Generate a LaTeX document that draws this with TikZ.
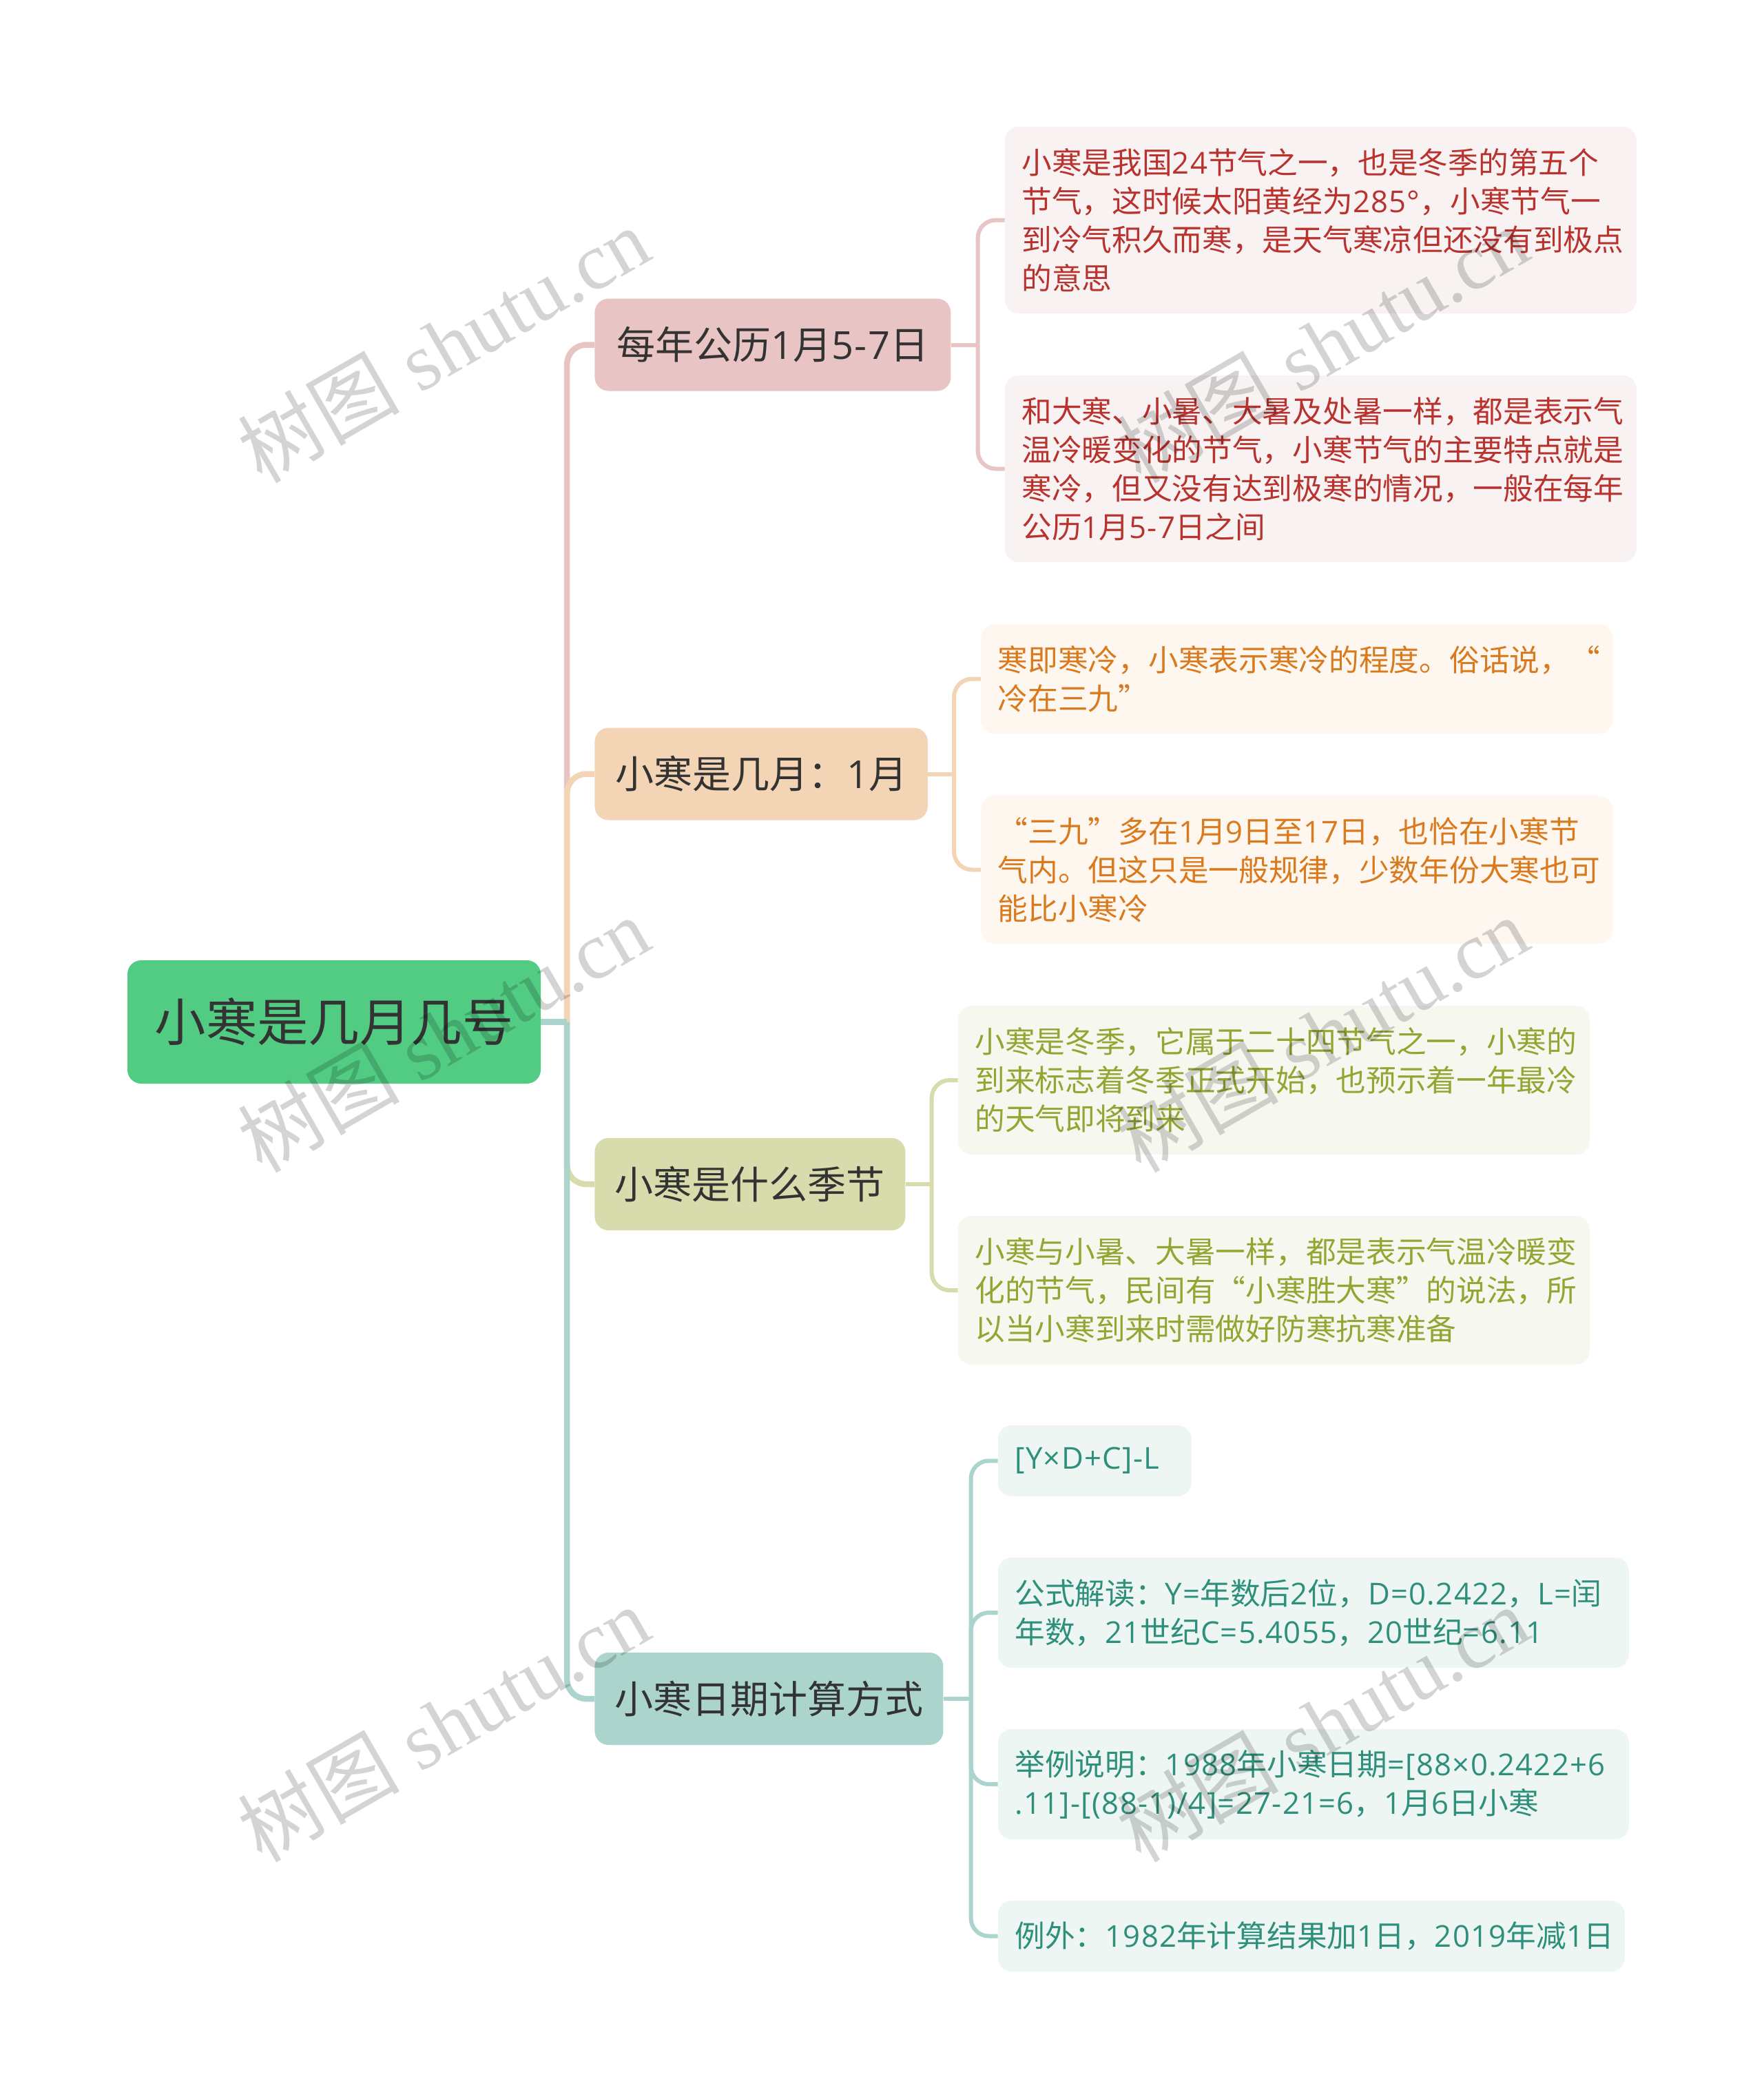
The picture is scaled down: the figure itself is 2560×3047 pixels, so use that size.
\documentclass[tikz,border=0pt]{standalone}
\usepackage{fontspec}
\setmainfont{Noto Sans CJK SC}
\newfontfamily\wmfont{Liberation Serif}
\newfontfamily\latinfont[LetterSpace=3]{Open Sans}
\newcommand{\latn}[1]{{\latinfont #1}}
\usepackage{xcolor}
\usetikzlibrary{positioning}

\definecolor{rootfill}{HTML}{52CC83}
\definecolor{inkdark}{HTML}{333333}
\definecolor{redfill}{HTML}{E8C4C4}
\definecolor{redleaf}{HTML}{F8F2F2}
\definecolor{redink}{HTML}{B8322E}
\definecolor{orangefill}{HTML}{F3D5B5}
\definecolor{orangeleaf}{HTML}{FDF7F0}
\definecolor{orangeink}{HTML}{D97A1E}
\definecolor{olivefill}{HTML}{D8DBAB}
\definecolor{oliveleaf}{HTML}{F6F8F0}
\definecolor{oliveink}{HTML}{93A533}
\definecolor{tealfill}{HTML}{AAD4CC}
\definecolor{tealleaf}{HTML}{EEF6F4}
\definecolor{tealink}{HTML}{2E8F7B}

\tikzset{
    rootbox/.style={rectangle,rounded corners=20pt,fill=rootfill,text=inkdark,minimum width=600pt,minimum height=179pt,inner sep=0pt,font=\fontsize{74.4}{90}\selectfont},
    branch/.style={rectangle,rounded corners=20pt,text=inkdark,minimum height=134pt,inner sep=0pt,font=\fontsize{56}{70}\selectfont},
    leaf/.style={rectangle,rounded corners=20pt,align=left,inner xsep=24.5pt,inner ysep=0pt,font=\fontsize{43.7}{56}\selectfont},
    redtext/.style={leaf,fill=redleaf,text=redink,text width=868pt,minimum height=271pt},
    orangetext/.style={leaf,fill=orangeleaf,text=orangeink,text width=868pt},
    olivetext/.style={leaf,fill=oliveleaf,text=oliveink,text width=868pt,minimum height=216pt},
    tealtext/.style={leaf,fill=tealleaf,text=tealink},
    trunkline/.style={line width=8.5pt},
    twigline/.style={line width=6pt},
    wmark/.style={rotate=30,text=black,text opacity=0.17,font=\fontsize{117.5}{130}\selectfont}
}

\begin{document}
\begin{tikzpicture}[x=1pt,y=1pt]
    \useasboundingbox (0,0) rectangle (2560,-3047);

    \node (root) [rootbox] at (485,-1483.5) { 小寒是几月几号 };

    \node (b1) [branch,fill=redfill,minimum width=517pt,right=78pt of root,yshift=983pt] { 每年公历\latn{1}月\latn{5-7}日 };
    \node (b2) [branch,fill=orangefill,minimum width=483.5pt,right=78pt of root,yshift=360pt] { 小寒是几月：\latn{1}月 };
    \node (b3) [branch,fill=olivefill,minimum width=451pt,right=78pt of root,yshift=-235.5pt] { 小寒是什么季节 };
    \node (b4) [branch,fill=tealfill,minimum width=506pt,right=78pt of root,yshift=-982.5pt] { 小寒日期计算方式 };

    \node (l1) [redtext,right=78pt of b1,yshift=181pt] {小寒是我国\latn{24}节气之一，也是冬季的第五个\\节气，这时候太阳黄经为\latn{285°}，小寒节气一\\到冷气积久而寒，是天气寒凉但还没有到极点\\的意思};
    \node (l2) [redtext,right=78pt of b1,yshift=-180pt] {和大寒、小暑、大暑及处暑一样，都是表示气\\温冷暖变化的节气，小寒节气的主要特点就是\\寒冷，但又没有达到极寒的情况，一般在每年\\公历\latn{1}月\latn{5-7}日之间};

    \node (l3) [orangetext,minimum height=159pt,right=77pt of b2,yshift=138pt] {寒即寒冷，小寒表示寒冷的程度。俗话说，“\\冷在三九”};
    \node (l4) [orangetext,minimum height=215pt,right=77pt of b2,yshift=-139pt] {“三九”多在\latn{1}月\latn{9}日至\latn{17}日，也恰在小寒节\\气内。但这只是一般规律，少数年份大寒也可\\能比小寒冷};

    \node (l5) [olivetext,right=76pt of b3,yshift=151pt] {小寒是冬季，它属于二十四节气之一，小寒的\\到来标志着冬季正式开始，也预示着一年最冷\\的天气即将到来};
    \node (l6) [olivetext,right=76pt of b3,yshift=-154pt] {小寒与小暑、大暑一样，都是表示气温冷暖变\\化的节气，民间有“小寒胜大寒”的说法，所\\以当小寒到来时需做好防寒抗寒准备};

    \node (l7) [tealtext,text width=232pt,minimum height=103pt,right=79pt of b4,yshift=345.5pt] {\latn{[Y×D+C]-L}};
    \node (l8) [tealtext,text width=867pt,minimum height=160pt,right=79pt of b4,yshift=125pt] {公式解读：\latn{Y=}年数后\latn{2}位，\latn{D=0.2422}，\latn{L=}闰\\年数，\latn{21}世纪\latn{C=5.4055}，\latn{20}世纪\latn{=6.11}};
    \node (l9) [tealtext,text width=867pt,minimum height=160pt,right=79pt of b4,yshift=-124pt] {举例说明：\latn{1988}年小寒日期\latn{=[88×0.2422+6}\\\latn{.11]-[(88-1)/4]=27-21=6}，\latn{1}月\latn{6}日小寒};
    \node (l10) [tealtext,text width=861pt,minimum height=103pt,right=79pt of b4,yshift=-344.5pt] {例外：\latn{1982}年计算结果加\latn{1}日，\latn{2019}年减\latn{1}日};

    \coordinate [right=38pt of root] (trunk);
    \coordinate [right=39pt of b1] (fork1);
    \coordinate [right=38pt of b2] (fork2);
    \coordinate [right=38pt of b3] (fork3);
    \coordinate [right=40pt of b4] (fork4);

    % Lines
    \draw[trunkline,redfill,rounded corners=28pt] (trunk) |- (b1.west);
    \draw[trunkline,orangefill,rounded corners=28pt] (trunk) |- (b2.west);
    \draw[trunkline,olivefill,rounded corners=28pt] (trunk) |- (b3.west);
    \draw[trunkline,tealfill,rounded corners=28pt] (trunk) |- (b4.west);
    \draw[trunkline,tealfill] (root.east) -- (trunk);

    \draw[twigline,redfill] (b1.east) -- (fork1);
    \draw[twigline,redfill,rounded corners=26pt] (fork1) |- (l1.west);
    \draw[twigline,redfill,rounded corners=26pt] (fork1) |- (l2.west);

    \draw[twigline,orangefill] (b2.east) -- (fork2);
    \draw[twigline,orangefill,rounded corners=26pt] (fork2) |- (l3.west);
    \draw[twigline,orangefill,rounded corners=26pt] (fork2) |- (l4.west);

    \draw[twigline,olivefill] (b3.east) -- (fork3);
    \draw[twigline,olivefill,rounded corners=26pt] (fork3) |- (l5.west);
    \draw[twigline,olivefill,rounded corners=26pt] (fork3) |- (l6.west);

    \draw[twigline,tealfill] (b4.east) -- (fork4);
    \draw[twigline,tealfill,rounded corners=26pt] (fork4) |- (l7.west);
    \draw[twigline,tealfill,rounded corners=26pt] (fork4) |- (l8.west);
    \draw[twigline,tealfill,rounded corners=26pt] (fork4) |- (l9.west);
    \draw[twigline,tealfill,rounded corners=26pt] (fork4) |- (l10.west);

    % Watermark
    \node (wm1) [wmark] at (644,-500) {树图{\wmfont\ shutu.cn}};
    \node (wm2) [wmark] at (1920,-500) {树图{\wmfont\ shutu.cn}};
    \node (wm3) [wmark] at (644,-1501) {树图{\wmfont\ shutu.cn}};
    \node (wm4) [wmark] at (1920,-1501) {树图{\wmfont\ shutu.cn}};
    \node (wm5) [wmark] at (644,-2502) {树图{\wmfont\ shutu.cn}};
    \node (wm6) [wmark] at (1920,-2502) {树图{\wmfont\ shutu.cn}};
\end{tikzpicture}
\end{document}
